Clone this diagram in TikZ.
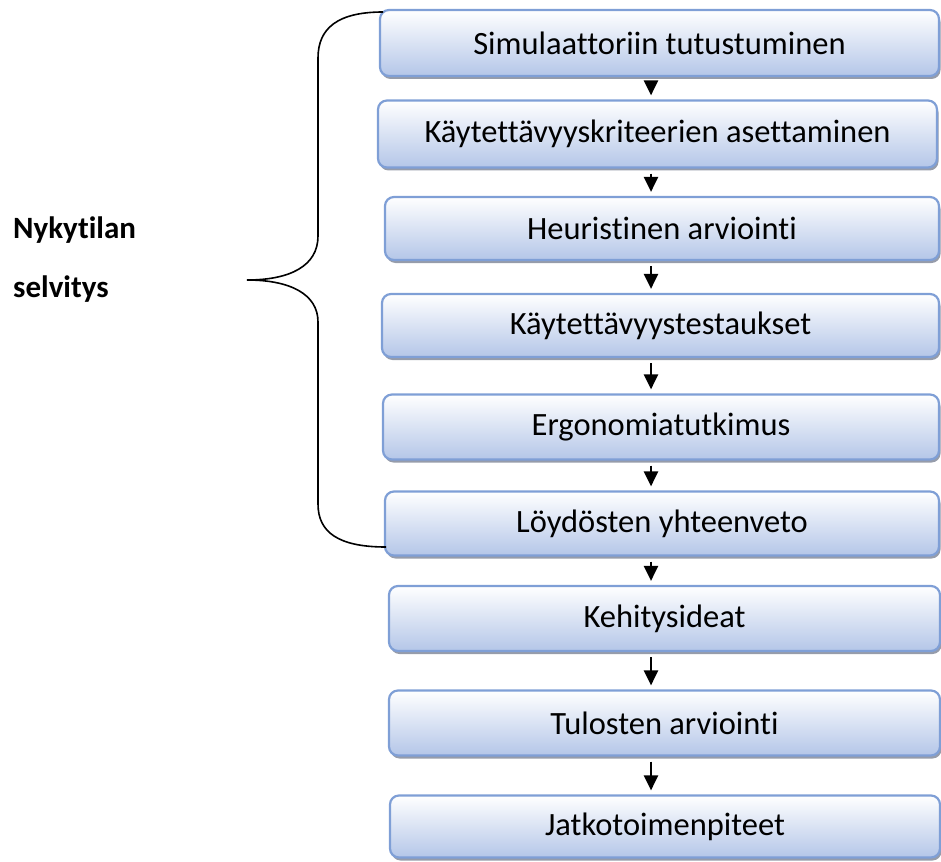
\documentclass[tikz,border=0pt]{standalone}
\usepackage{fontspec}
\setmainfont{Carlito}[RawFeature={-liga}]
\usetikzlibrary{shadows,arrows.meta}
\definecolor{boxline}{RGB}{127,159,214}
\definecolor{boxbot}{RGB}{180,198,232}
\definecolor{shadowc}{RGB}{150,156,170}
\tikzset{
  stepbox/.style={draw=boxline, line width=2.2pt, rounded corners=9pt,
    top color=white, bottom color=boxbot, inner sep=0pt,
    font=\fontsize{32.5}{38}\selectfont,
    drop shadow={shadow xshift=1.5pt, shadow yshift=-3pt, fill=shadowc, opacity=1}},
  arr/.style={line width=2.4pt, shorten <=3pt, shorten >=4pt,
    -{Triangle[width=14pt,length=15pt]}},
  brace/.style={line width=1.6pt},
  lab/.style={anchor=base west, inner sep=0pt, font=\fontsize{31}{37}\selectfont\bfseries}
}
\begin{document}
\begin{tikzpicture}[x=1pt,y=1pt]
\useasboundingbox (0,0) rectangle (941,-861);
\node[stepbox, minimum width=559, minimum height=66] (b1) at (659.5,-43) {Simulaattoriin tutustuminen};
\node[stepbox, minimum width=559, minimum height=67] (b2) at (657.5,-134) {Käytettävyyskriteerien asettaminen};
\node[stepbox, minimum width=554, minimum height=63] (b3) at (662,-228.5) {Heuristinen arviointi};
\node[stepbox, minimum width=557, minimum height=63] (b4) at (660.5,-325.5) {Käytettävyystestaukset};
\node[stepbox, minimum width=556, minimum height=65] (b5) at (661,-427) {Ergonomiatutkimus};
\node[stepbox, minimum width=554, minimum height=64] (b6) at (662,-523.5) {Löydösten yhteenveto};
\node[stepbox, minimum width=551, minimum height=65] (b7) at (664.5,-618.5) {Kehitysideat};
\node[stepbox, minimum width=551, minimum height=65] (b8) at (664.5,-723) {Tulosten arviointi};
\node[stepbox, minimum width=550, minimum height=62] (b9) at (665,-826.5) {Jatkotoimenpiteet};

\coordinate (ax) at (651,0);
\foreach \a/\b in {b1/b2,b2/b3,b3/b4,b4/b5,b5/b6,b6/b7,b7/b8,b8/b9}
  \draw[arr] ([yshift=-2pt]\a.south -| ax) -- (\b.north -| ax);

\coordinate (bt) at (383,-12);
\coordinate (bb) at (386,-547);
\draw[brace] (bt) .. controls (338,-12) and (318,-28) .. (318,-58)
  -- (318,-236) .. controls (318,-266) and (290,-280) .. (247,-280)
  .. controls (290,-280) and (318,-294) .. (318,-322)
  -- (318,-504) .. controls (318,-532) and (338,-547) .. (bb);

\node[lab] (l1) at (13,-238) {Nykytilan};
\node[lab] (l2) at (13,-297) {selvitys};
\end{tikzpicture}
\end{document}
